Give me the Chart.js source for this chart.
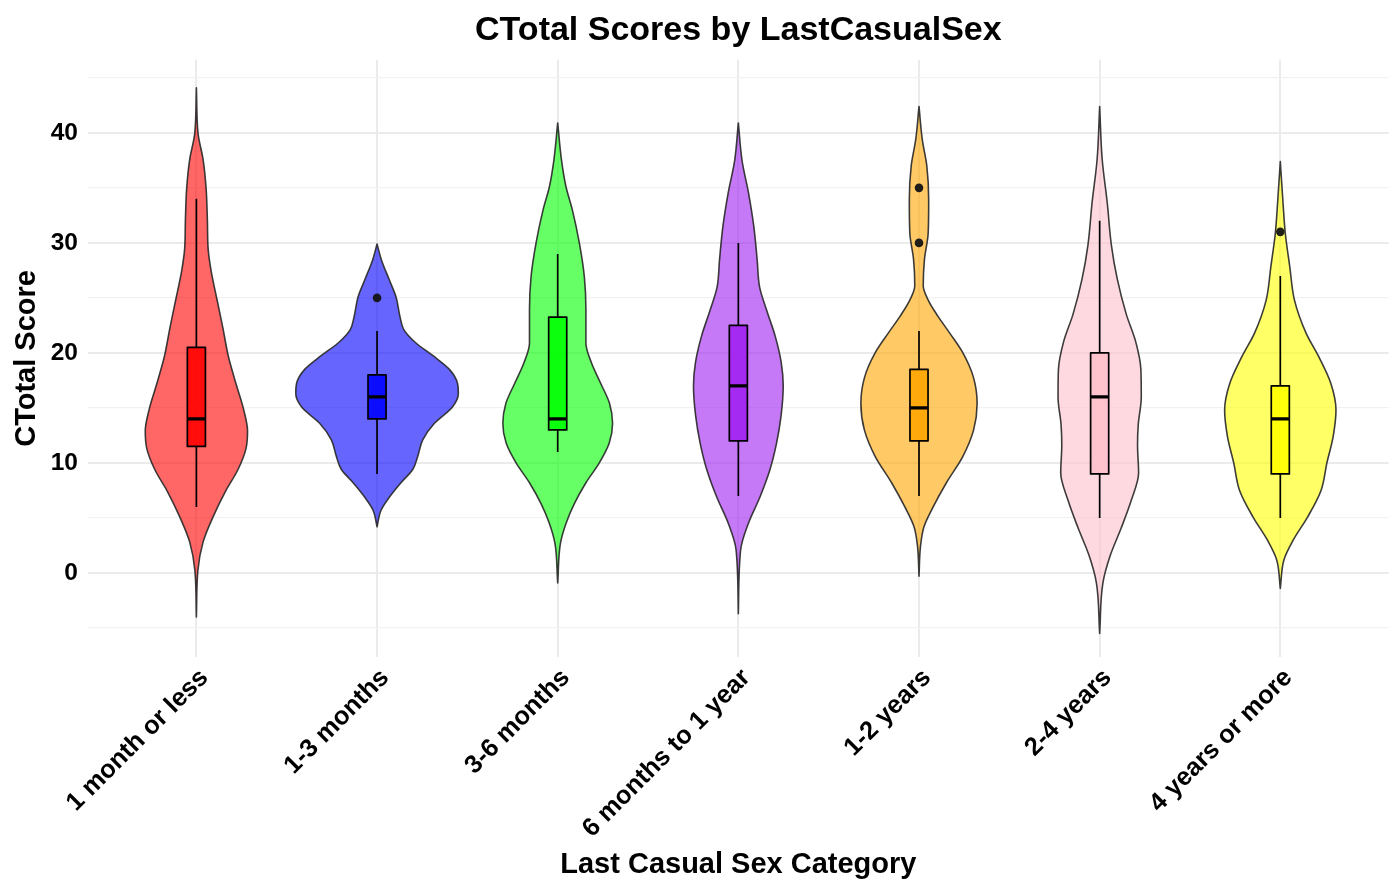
<!DOCTYPE html>
<html>
<head>
<meta charset="utf-8">
<title>CTotal Scores by LastCasualSex</title>
<script src="https://cdn.jsdelivr.net/npm/chart.js@4.4.1/dist/chart.umd.min.js"></script>
<style>
  html, body { margin: 0; padding: 0; background: #ffffff; }
  #wrap { width: 1393px; height: 882px; }
</style>
</head>
<body>
<div id="wrap"><canvas id="chart" width="1393" height="882"></canvas></div>
<script>
// ---- data -----------------------------------------------------------------
const categories = ['1 month or less', '1-3 months', '3-6 months', '6 months to 1 year',
                    '1-2 years', '2-4 years', '4 years or more'];
const fillColors = ['#FF0000', '#0000FF', '#00FF00', '#A020F0', '#FFA500', '#FFC0CB', '#FFFF00'];

// box-plot statistics per category
const whiskerLow  = [6, 9, 11, 7, 7, 5, 5];
const quartile1   = [11.5, 14, 13, 12, 12, 9, 9];
const medians     = [14, 16, 14, 17, 15, 16, 14];
const quartile3   = [20.5, 18, 23.25, 22.5, 18.5, 20, 17];
const whiskerHigh = [34, 22, 29, 30, 22, 32, 27];
const outliers    = [[], [25], [], [], [35, 30], [], [31]];

// violin outlines: [score, relative density width] from top to bottom
const density1MonthOrLess = [[44.1, 0], [39.9, 0.021], [37.6, 0.082], [35.0, 0.119], [32.1, 0.135],
  [29.5, 0.144], [27.5, 0.180], [24.9, 0.252], [22.3, 0.325], [19.7, 0.393], [17.1, 0.491],
  [14.8, 0.583], [12.9, 0.629], [11.3, 0.610], [9.4, 0.512], [7.4, 0.356], [5.1, 0.205],
  [2.8, 0.082], [0.2, 0.018], [-4.0, 0]];
const density1To3Months = [[29.9, 0], [28.5, 0.052], [26.6, 0.153], [25.1, 0.233], [23.3, 0.282],
  [22.1, 0.331], [20.9, 0.479], [19.7, 0.696], [18.5, 0.890], [17.2, 0.991], [16.3, 1.0],
  [15.1, 0.930], [13.6, 0.706], [12.1, 0.562], [10.6, 0.501], [9.4, 0.439], [8.2, 0.294],
  [6.9, 0.153], [5.7, 0.049], [4.2, 0]];
const density3To6Months = [[40.9, 0], [37.5, 0.047], [35.1, 0.102], [33.0, 0.180], [30.0, 0.266],
  [26.9, 0.328], [23.9, 0.347], [20.9, 0.347], [19.1, 0.415], [17.2, 0.531], [15.4, 0.638],
  [13.6, 0.675], [11.8, 0.634], [10.0, 0.512], [8.2, 0.347], [6.3, 0.205], [4.5, 0.102],
  [2.7, 0.034], [-0.9, 0]];
const density6MonthsTo1Year = [[40.9, 0], [37.5, 0.045], [34.5, 0.126], [31.5, 0.190], [28.5, 0.231],
  [26.0, 0.261], [23.9, 0.347], [21.5, 0.454], [19.1, 0.528], [17.0, 0.552], [14.2, 0.524],
  [11.8, 0.470], [9.4, 0.389], [6.9, 0.266], [4.5, 0.123], [2.1, 0.028], [-3.7, 0]];
const density1To2Years = [[42.4, 0], [39.4, 0.040], [37.0, 0.096], [33.9, 0.119], [30.9, 0.113],
  [28.5, 0.067], [26.1, 0.052], [24.8, 0.113], [23.3, 0.236], [21.8, 0.378], [20.0, 0.540],
  [17.8, 0.669], [15.4, 0.715], [13.0, 0.672], [10.6, 0.540], [8.2, 0.337], [6.0, 0.174],
  [4.2, 0.061], [2.4, 0.018], [-0.3, 0]];
const density2To4Years = [[42.4, 0], [37.6, 0.031], [33.6, 0.094], [29.8, 0.144], [26.7, 0.217],
  [23.5, 0.328], [21.0, 0.444], [18.5, 0.507], [16.0, 0.512], [13.5, 0.475], [11.6, 0.466],
  [9.1, 0.479], [6.6, 0.389], [4.1, 0.266], [1.6, 0.131], [-0.9, 0.040], [-5.5, 0]];
const density4YearsOrMore = [[37.4, 0], [33.9, 0.031], [30.9, 0.061], [27.8, 0.117], [24.8, 0.174],
  [21.8, 0.317], [19.7, 0.470], [17.2, 0.623], [14.8, 0.685], [12.4, 0.650], [10.0, 0.573],
  [7.5, 0.501], [5.1, 0.337], [3.0, 0.160], [1.2, 0.045], [-1.4, 0]];
const densities = [density1MonthOrLess, density1To3Months, density3To6Months, density6MonthsTo1Year,
                   density1To2Years, density2To4Years, density4YearsOrMore];

const yTickValues = [-5, 0, 5, 10, 15, 20, 25, 30, 35, 40, 45];

// ---- drawing helpers -------------------------------------------------------
const FONT = "'Liberation Sans', Arial, Helvetica, sans-serif";
const VIOLIN_HALF = 0.45;   // half of the full violin width, in category units
const BOX_HALF = 0.05;

function withAlpha(hex, a) {
  const n = parseInt(hex.slice(1), 16);
  return `rgba(${(n >> 16) & 255},${(n >> 8) & 255},${n & 255},${a})`;
}

// Fritsch–Carlson tangents so the outline never overshoots between points
function monotoneTangents(vs, ws) {
  const n = vs.length, d = [], m = new Array(n);
  for (let k = 0; k < n - 1; k++) d.push((ws[k + 1] - ws[k]) / (vs[k + 1] - vs[k]));
  m[0] = d[0];
  m[n - 1] = d[n - 2];
  for (let k = 1; k < n - 1; k++) m[k] = d[k - 1] * d[k] <= 0 ? 0 : (d[k - 1] + d[k]) / 2;
  for (let k = 0; k < n - 1; k++) {
    if (d[k] === 0) { m[k] = 0; m[k + 1] = 0; continue; }
    const a = m[k] / d[k], b = m[k + 1] / d[k], s = a * a + b * b;
    if (s > 9) { const t = 3 / Math.sqrt(s); m[k] = t * a * d[k]; m[k + 1] = t * b * d[k]; }
  }
  return m;
}

function traceViolin(ctx, xs, ys, idx, profile) {
  const vs = profile.map(p => p[0]);
  const ws = profile.map(p => p[1] * VIOLIN_HALF);
  const m = monotoneTangents(vs, ws);
  const n = vs.length;
  const P = (side, v, w) => [xs.getPixelForValue(idx + side * w), ys.getPixelForValue(v)];
  ctx.beginPath();
  let p = P(1, vs[0], ws[0]);
  ctx.moveTo(p[0], p[1]);
  for (let k = 0; k < n - 1; k++) {           // right half, top to bottom
    const h = vs[k + 1] - vs[k];
    const c1 = P(1, vs[k] + h / 3, ws[k] + m[k] * h / 3);
    const c2 = P(1, vs[k + 1] - h / 3, ws[k + 1] - m[k + 1] * h / 3);
    const e = P(1, vs[k + 1], ws[k + 1]);
    ctx.bezierCurveTo(c1[0], c1[1], c2[0], c2[1], e[0], e[1]);
  }
  for (let k = n - 2; k >= 0; k--) {          // left half, bottom to top
    const h = vs[k + 1] - vs[k];
    const c1 = P(-1, vs[k + 1] - h / 3, ws[k + 1] - m[k + 1] * h / 3);
    const c2 = P(-1, vs[k] + h / 3, ws[k] + m[k] * h / 3);
    const e = P(-1, vs[k], ws[k]);
    ctx.bezierCurveTo(c1[0], c1[1], c2[0], c2[1], e[0], e[1]);
  }
  ctx.closePath();
}

const violinBoxPlugin = {
  id: 'violinBox',
  beforeDatasetsDraw(chart) {
    const { ctx, chartArea, scales: { x, y } } = chart;
    ctx.save();
    ctx.beginPath();
    ctx.rect(chartArea.left, chartArea.top, chartArea.width, chartArea.height);
    ctx.clip();
    categories.forEach((cat, i) => {
      // violin
      traceViolin(ctx, x, y, i, densities[i]);
      ctx.fillStyle = withAlpha(fillColors[i], 0.6);
      ctx.fill();
      ctx.lineWidth = 1.6;
      ctx.strokeStyle = 'rgba(40,40,40,0.9)';
      ctx.lineJoin = 'round';
      ctx.stroke();

      // box plot
      const cx = x.getPixelForValue(i);
      const left = x.getPixelForValue(i - BOX_HALF);
      const right = x.getPixelForValue(i + BOX_HALF);
      const yq1 = y.getPixelForValue(quartile1[i]);
      const yq3 = y.getPixelForValue(quartile3[i]);
      ctx.strokeStyle = '#000000';
      ctx.lineWidth = 1.7;
      ctx.beginPath();
      ctx.moveTo(cx, y.getPixelForValue(whiskerHigh[i]));
      ctx.lineTo(cx, yq3);
      ctx.moveTo(cx, yq1);
      ctx.lineTo(cx, y.getPixelForValue(whiskerLow[i]));
      ctx.stroke();
      ctx.fillStyle = withAlpha(fillColors[i], 0.88);
      ctx.fillRect(left, yq3, right - left, yq1 - yq3);
      ctx.strokeRect(left, yq3, right - left, yq1 - yq3);
      const ym = y.getPixelForValue(medians[i]);
      ctx.lineWidth = 3.4;
      ctx.beginPath();
      ctx.moveTo(left, ym);
      ctx.lineTo(right, ym);
      ctx.stroke();
    });
    ctx.restore();
  }
};

const outlierPoints = [];
outliers.forEach((list, i) => list.forEach(v => outlierPoints.push({ x: i, y: v })));

new Chart(document.getElementById('chart'), {
  type: 'scatter',
  data: {
    datasets: [{
      data: outlierPoints,
      pointRadius: 4.3,
      pointHoverRadius: 4.3,
      backgroundColor: 'rgba(20,20,20,0.95)',
      borderWidth: 0
    }]
  },
  options: {
    responsive: false,
    animation: false,
    devicePixelRatio: 1,
    events: [],
    layout: { padding: { left: 0, right: 0, top: 0, bottom: 0 } },
    plugins: {
      legend: { display: false },
      tooltip: { enabled: false },
      title: {
        display: true,
        fullSize: false,
        text: 'CTotal Scores by LastCasualSex',
        color: '#000000',
        font: { family: FONT, size: 34, weight: 'bold' },
        padding: { top: 10, bottom: 9 }
      }
    },
    scales: {
      x: {
        type: 'linear',
        min: -0.6,
        max: 6.6,
        afterBuildTicks: s => { s.ticks = categories.map((c, i) => ({ value: i })); },
        afterFit: s => { s.paddingLeft = 0; s.paddingRight = 0; s.height = 225; },
        border: { display: false },
        grid: { color: '#EBEBEB', lineWidth: 2, drawTicks: false },
        ticks: {
          autoSkip: false,
          minRotation: 45,
          maxRotation: 45,
          padding: 6,
          labelOffset: 8,
          color: '#000000',
          font: { family: FONT, size: 25.5, weight: 'bold' },
          callback: v => categories[v]
        },
        title: {
          display: true,
          text: 'Last Casual Sex Category',
          color: '#000000',
          font: { family: FONT, size: 29, weight: 'bold', lineHeight: 1 },
          padding: { top: 0, bottom: 3 }
        }
      },
      y: {
        type: 'linear',
        min: -7.64,
        max: 46.64,
        afterBuildTicks: s => { s.ticks = yTickValues.map(v => ({ value: v })); },
        afterFit: s => { s.width = 88; },
        border: { display: false },
        grid: {
          drawTicks: false,
          color: c => (c.tick && c.tick.value % 10 === 0) ? '#EBEBEB' : '#F1F1F1',
          lineWidth: c => (c.tick && c.tick.value % 10 === 0) ? 2 : 1.3
        },
        ticks: {
          autoSkip: false,
          padding: 10,
          color: '#000000',
          font: { family: FONT, size: 24.5, weight: 'bold' },
          callback: v => (v % 10 === 0 ? String(v) : '')
        },
        title: {
          display: true,
          text: 'CTotal Score',
          color: '#000000',
          font: { family: FONT, size: 29, weight: 'bold' },
          padding: { top: 10, bottom: 6 }
        }
      }
    }
  },
  plugins: [violinBoxPlugin]
});
</script>
</body>
</html>
